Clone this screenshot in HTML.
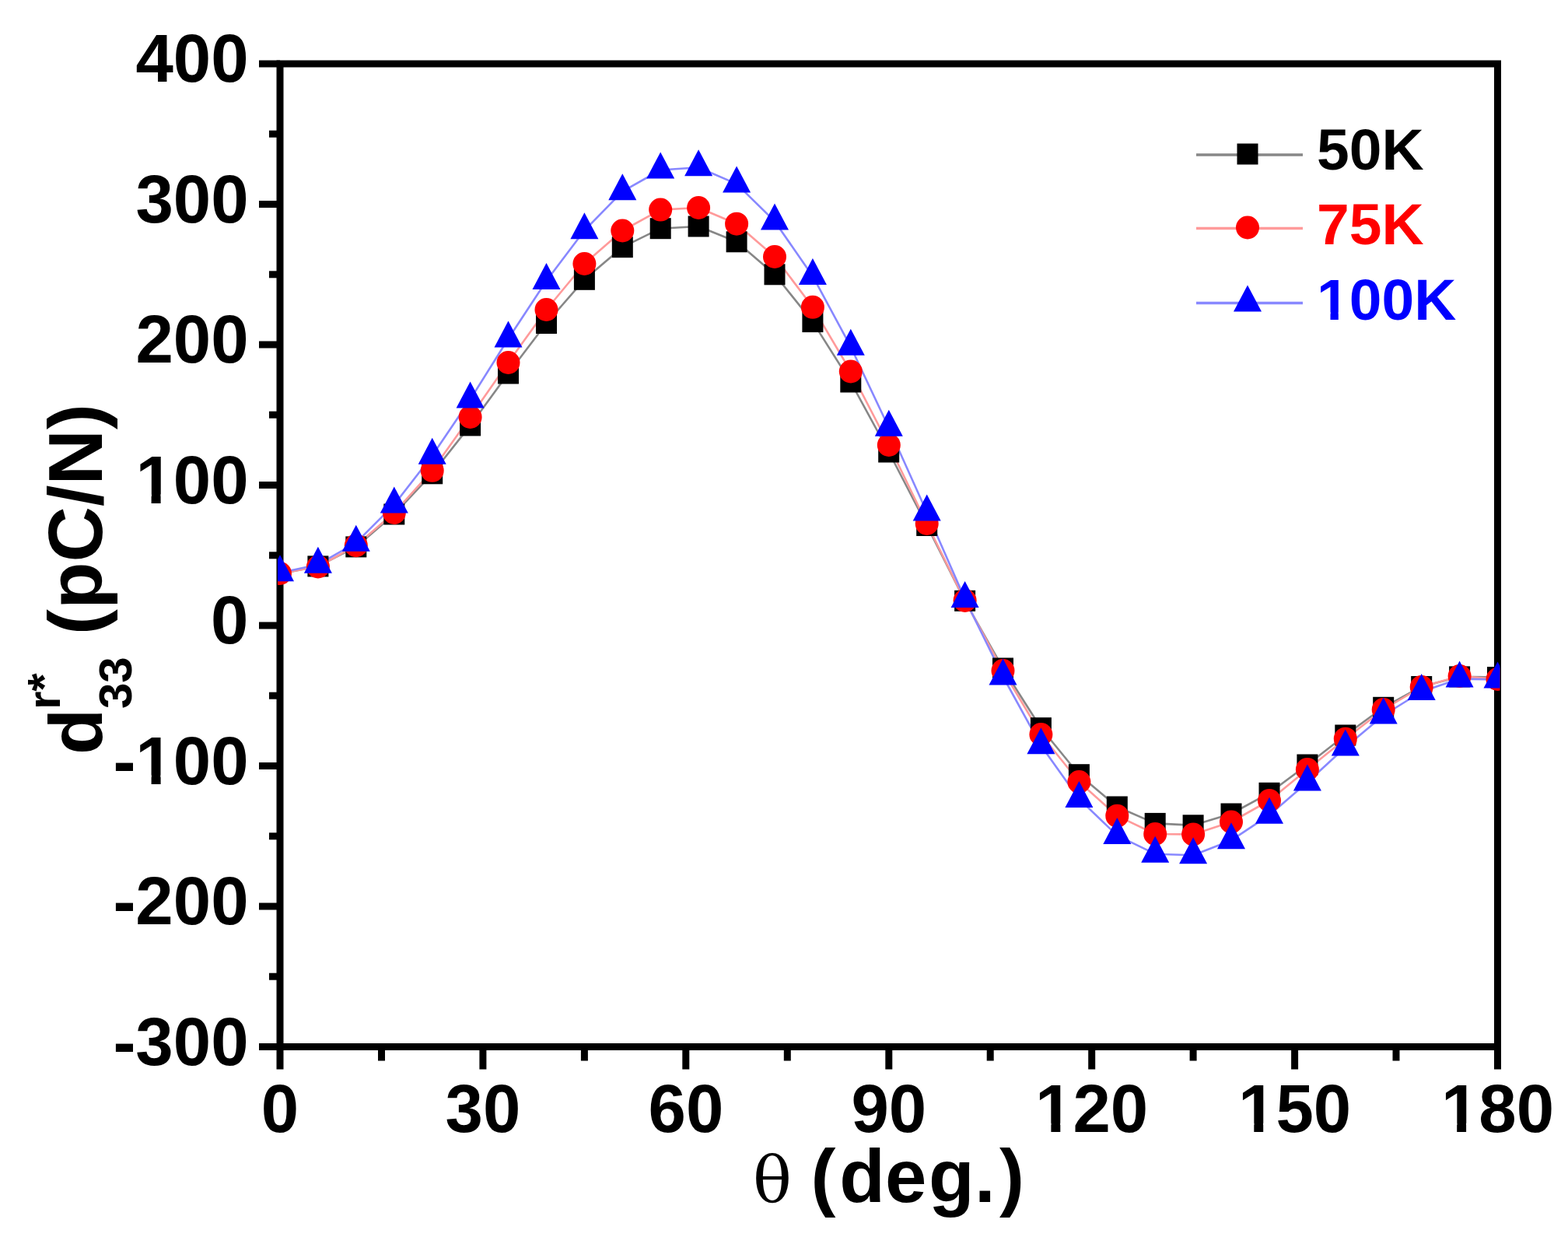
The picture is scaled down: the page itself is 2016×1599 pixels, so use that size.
<!DOCTYPE html>
<html><head><meta charset="utf-8"><title>d33 vs theta</title>
<style>html,body{margin:0;padding:0;background:#fff;width:2016px;height:1599px;overflow:hidden}svg{display:block}</style>
</head><body>
<svg width="2016" height="1599" viewBox="0 0 2016 1599"><defs><clipPath id="pc"><rect x="357.0" y="82.0" width="1571.5" height="1263.5"/></clipPath></defs><g stroke="#000" stroke-width="9.0" fill="none"><rect x="360.0" y="82.0" width="1565.5" height="1263.5"/><line x1="333.0" y1="82.0" x2="360.0" y2="82.0"/><line x1="333.0" y1="262.5" x2="360.0" y2="262.5"/><line x1="333.0" y1="443.0" x2="360.0" y2="443.0"/><line x1="333.0" y1="623.5" x2="360.0" y2="623.5"/><line x1="333.0" y1="804.0" x2="360.0" y2="804.0"/><line x1="333.0" y1="984.5" x2="360.0" y2="984.5"/><line x1="333.0" y1="1165.0" x2="360.0" y2="1165.0"/><line x1="333.0" y1="1345.5" x2="360.0" y2="1345.5"/><line x1="346.0" y1="172.2" x2="360.0" y2="172.2"/><line x1="346.0" y1="352.8" x2="360.0" y2="352.8"/><line x1="346.0" y1="533.2" x2="360.0" y2="533.2"/><line x1="346.0" y1="713.8" x2="360.0" y2="713.8"/><line x1="346.0" y1="894.2" x2="360.0" y2="894.2"/><line x1="346.0" y1="1074.8" x2="360.0" y2="1074.8"/><line x1="346.0" y1="1255.2" x2="360.0" y2="1255.2"/><line x1="360.0" y1="1345.5" x2="360.0" y2="1374.5"/><line x1="620.9" y1="1345.5" x2="620.9" y2="1374.5"/><line x1="881.8" y1="1345.5" x2="881.8" y2="1374.5"/><line x1="1142.8" y1="1345.5" x2="1142.8" y2="1374.5"/><line x1="1403.7" y1="1345.5" x2="1403.7" y2="1374.5"/><line x1="1664.6" y1="1345.5" x2="1664.6" y2="1374.5"/><line x1="1925.5" y1="1345.5" x2="1925.5" y2="1374.5"/><line x1="490.5" y1="1345.5" x2="490.5" y2="1363.5"/><line x1="751.4" y1="1345.5" x2="751.4" y2="1363.5"/><line x1="1012.3" y1="1345.5" x2="1012.3" y2="1363.5"/><line x1="1273.2" y1="1345.5" x2="1273.2" y2="1363.5"/><line x1="1534.1" y1="1345.5" x2="1534.1" y2="1363.5"/><line x1="1795.0" y1="1345.5" x2="1795.0" y2="1363.5"/></g><g clip-path="url(#pc)"><polyline fill="none" stroke="#878787" stroke-width="2.6" stroke-linejoin="round" points="360.0,737.5 408.9,727.9 457.8,702.9 506.8,661.0 555.7,608.8 604.6,546.9 653.5,480.0 702.5,415.5 751.4,359.3 800.3,317.7 849.2,293.7 898.1,291.0 947.1,310.8 996.0,352.8 1044.9,413.6 1093.8,491.0 1142.8,581.0 1191.7,675.5 1240.6,772.3 1289.5,859.0 1338.4,935.7 1387.4,995.7 1436.3,1037.0 1485.2,1058.4 1534.1,1060.8 1583.0,1046.0 1632.0,1019.3 1680.9,983.0 1729.8,945.0 1778.7,909.3 1827.7,882.5 1876.6,869.9 1925.5,870.6"/><polyline fill="none" stroke="#ff9a9a" stroke-width="2.6" stroke-linejoin="round" points="360.0,737.0 408.9,728.5 457.8,701.2 506.8,659.0 555.7,604.8 604.6,536.0 653.5,466.0 702.5,398.0 751.4,339.0 800.3,296.5 849.2,269.6 898.1,267.0 947.1,287.7 996.0,330.0 1044.9,394.8 1093.8,477.5 1142.8,572.0 1191.7,673.0 1240.6,772.0 1289.5,862.0 1338.4,944.0 1387.4,1005.0 1436.3,1048.7 1485.2,1072.0 1534.1,1072.5 1583.0,1056.5 1632.0,1029.0 1680.9,989.0 1729.8,949.7 1778.7,912.0 1827.7,883.0 1876.6,869.0 1925.5,873.0"/><polyline fill="none" stroke="#8888ff" stroke-width="2.6" stroke-linejoin="round" points="360.0,736.3 408.9,725.7 457.8,697.7 506.8,648.6 555.7,585.7 604.6,513.4 653.5,435.5 702.5,361.0 751.4,296.2 800.3,246.2 849.2,218.5 898.1,215.3 947.1,236.4 996.0,284.4 1044.9,354.9 1093.8,445.7 1142.8,549.8 1191.7,658.5 1240.6,769.9 1289.5,869.5 1338.4,958.3 1387.4,1027.0 1436.3,1073.9 1485.2,1097.7 1534.1,1099.2 1583.0,1080.2 1632.0,1047.7 1680.9,1005.5 1729.8,960.5 1778.7,919.5 1827.7,889.0 1876.6,872.6 1925.5,873.5"/><rect x="395.4" y="714.4" width="27" height="27" fill="#000"/><rect x="444.3" y="689.4" width="27" height="27" fill="#000"/><rect x="493.3" y="647.5" width="27" height="27" fill="#000"/><rect x="542.2" y="595.3" width="27" height="27" fill="#000"/><rect x="591.1" y="533.4" width="27" height="27" fill="#000"/><rect x="640.0" y="466.5" width="27" height="27" fill="#000"/><rect x="689.0" y="402.0" width="27" height="27" fill="#000"/><rect x="737.9" y="345.8" width="27" height="27" fill="#000"/><rect x="786.8" y="304.2" width="27" height="27" fill="#000"/><rect x="835.7" y="280.2" width="27" height="27" fill="#000"/><rect x="884.6" y="277.5" width="27" height="27" fill="#000"/><rect x="933.6" y="297.3" width="27" height="27" fill="#000"/><rect x="982.5" y="339.3" width="27" height="27" fill="#000"/><rect x="1031.4" y="400.1" width="27" height="27" fill="#000"/><rect x="1080.3" y="477.5" width="27" height="27" fill="#000"/><rect x="1129.2" y="567.5" width="27" height="27" fill="#000"/><rect x="1178.2" y="662.0" width="27" height="27" fill="#000"/><rect x="1227.1" y="758.8" width="27" height="27" fill="#000"/><rect x="1276.0" y="845.5" width="27" height="27" fill="#000"/><rect x="1324.9" y="922.2" width="27" height="27" fill="#000"/><rect x="1373.9" y="982.2" width="27" height="27" fill="#000"/><rect x="1422.8" y="1023.5" width="27" height="27" fill="#000"/><rect x="1471.7" y="1044.9" width="27" height="27" fill="#000"/><rect x="1520.6" y="1047.3" width="27" height="27" fill="#000"/><rect x="1569.5" y="1032.5" width="27" height="27" fill="#000"/><rect x="1618.5" y="1005.8" width="27" height="27" fill="#000"/><rect x="1667.4" y="969.5" width="27" height="27" fill="#000"/><rect x="1716.3" y="931.5" width="27" height="27" fill="#000"/><rect x="1765.2" y="895.8" width="27" height="27" fill="#000"/><rect x="1814.2" y="869.0" width="27" height="27" fill="#000"/><rect x="1863.1" y="856.4" width="27" height="27" fill="#000"/><rect x="1912.0" y="857.1" width="27" height="27" fill="#000"/><circle cx="360.0" cy="737.0" r="15.0" fill="#f00"/><circle cx="408.9" cy="728.5" r="15.0" fill="#f00"/><circle cx="457.8" cy="701.2" r="15.0" fill="#f00"/><circle cx="506.8" cy="659.0" r="15.0" fill="#f00"/><circle cx="555.7" cy="604.8" r="15.0" fill="#f00"/><circle cx="604.6" cy="536.0" r="15.0" fill="#f00"/><circle cx="653.5" cy="466.0" r="15.0" fill="#f00"/><circle cx="702.5" cy="398.0" r="15.0" fill="#f00"/><circle cx="751.4" cy="339.0" r="15.0" fill="#f00"/><circle cx="800.3" cy="296.5" r="15.0" fill="#f00"/><circle cx="849.2" cy="269.6" r="15.0" fill="#f00"/><circle cx="898.1" cy="267.0" r="15.0" fill="#f00"/><circle cx="947.1" cy="287.7" r="15.0" fill="#f00"/><circle cx="996.0" cy="330.0" r="15.0" fill="#f00"/><circle cx="1044.9" cy="394.8" r="15.0" fill="#f00"/><circle cx="1093.8" cy="477.5" r="15.0" fill="#f00"/><circle cx="1142.8" cy="572.0" r="15.0" fill="#f00"/><circle cx="1191.7" cy="673.0" r="15.0" fill="#f00"/><circle cx="1240.6" cy="772.0" r="15.0" fill="#f00"/><circle cx="1289.5" cy="862.0" r="15.0" fill="#f00"/><circle cx="1338.4" cy="944.0" r="15.0" fill="#f00"/><circle cx="1387.4" cy="1005.0" r="15.0" fill="#f00"/><circle cx="1436.3" cy="1048.7" r="15.0" fill="#f00"/><circle cx="1485.2" cy="1072.0" r="15.0" fill="#f00"/><circle cx="1534.1" cy="1072.5" r="15.0" fill="#f00"/><circle cx="1583.0" cy="1056.5" r="15.0" fill="#f00"/><circle cx="1632.0" cy="1029.0" r="15.0" fill="#f00"/><circle cx="1680.9" cy="989.0" r="15.0" fill="#f00"/><circle cx="1729.8" cy="949.7" r="15.0" fill="#f00"/><circle cx="1778.7" cy="912.0" r="15.0" fill="#f00"/><circle cx="1827.7" cy="883.0" r="15.0" fill="#f00"/><circle cx="1876.6" cy="869.0" r="15.0" fill="#f00"/><circle cx="1925.5" cy="873.0" r="15.0" fill="#f00"/><polygon points="360.0,713.3 342.0,747.3 378.0,747.3" fill="#00f"/><polygon points="408.9,702.7 390.9,736.7 426.9,736.7" fill="#00f"/><polygon points="457.8,674.7 439.8,708.7 475.8,708.7" fill="#00f"/><polygon points="506.8,625.6 488.8,659.6 524.8,659.6" fill="#00f"/><polygon points="555.7,562.7 537.7,596.7 573.7,596.7" fill="#00f"/><polygon points="604.6,490.4 586.6,524.4 622.6,524.4" fill="#00f"/><polygon points="653.5,412.5 635.5,446.5 671.5,446.5" fill="#00f"/><polygon points="702.5,338.0 684.5,372.0 720.5,372.0" fill="#00f"/><polygon points="751.4,273.2 733.4,307.2 769.4,307.2" fill="#00f"/><polygon points="800.3,223.2 782.3,257.2 818.3,257.2" fill="#00f"/><polygon points="849.2,195.5 831.2,229.5 867.2,229.5" fill="#00f"/><polygon points="898.1,192.3 880.1,226.3 916.1,226.3" fill="#00f"/><polygon points="947.1,213.4 929.1,247.4 965.1,247.4" fill="#00f"/><polygon points="996.0,261.4 978.0,295.4 1014.0,295.4" fill="#00f"/><polygon points="1044.9,331.9 1026.9,365.9 1062.9,365.9" fill="#00f"/><polygon points="1093.8,422.7 1075.8,456.7 1111.8,456.7" fill="#00f"/><polygon points="1142.8,526.8 1124.8,560.8 1160.8,560.8" fill="#00f"/><polygon points="1191.7,635.5 1173.7,669.5 1209.7,669.5" fill="#00f"/><polygon points="1240.6,746.9 1222.6,780.9 1258.6,780.9" fill="#00f"/><polygon points="1289.5,846.5 1271.5,880.5 1307.5,880.5" fill="#00f"/><polygon points="1338.4,935.3 1320.4,969.3 1356.4,969.3" fill="#00f"/><polygon points="1387.4,1004.0 1369.4,1038.0 1405.4,1038.0" fill="#00f"/><polygon points="1436.3,1050.9 1418.3,1084.9 1454.3,1084.9" fill="#00f"/><polygon points="1485.2,1074.7 1467.2,1108.7 1503.2,1108.7" fill="#00f"/><polygon points="1534.1,1076.2 1516.1,1110.2 1552.1,1110.2" fill="#00f"/><polygon points="1583.0,1057.2 1565.0,1091.2 1601.0,1091.2" fill="#00f"/><polygon points="1632.0,1024.7 1614.0,1058.7 1650.0,1058.7" fill="#00f"/><polygon points="1680.9,982.5 1662.9,1016.5 1698.9,1016.5" fill="#00f"/><polygon points="1729.8,937.5 1711.8,971.5 1747.8,971.5" fill="#00f"/><polygon points="1778.7,896.5 1760.7,930.5 1796.7,930.5" fill="#00f"/><polygon points="1827.7,866.0 1809.7,900.0 1845.7,900.0" fill="#00f"/><polygon points="1876.6,849.6 1858.6,883.6 1894.6,883.6" fill="#00f"/><polygon points="1925.5,850.5 1907.5,884.5 1943.5,884.5" fill="#00f"/></g><text x="174.4" y="105.0" font-family="Liberation Sans, Arial, sans-serif" font-weight="bold" font-size="87" fill="#000">400</text><text x="174.4" y="285.5" font-family="Liberation Sans, Arial, sans-serif" font-weight="bold" font-size="87" fill="#000">300</text><text x="174.4" y="466.0" font-family="Liberation Sans, Arial, sans-serif" font-weight="bold" font-size="87" fill="#000">200</text><text x="174.4" y="646.5" font-family="Liberation Sans, Arial, sans-serif" font-weight="bold" font-size="87" fill="#000">100</text><rect x="178.7" y="635.2" width="15.9" height="13.0" fill="#fff"/><rect x="206.6" y="635.2" width="14.4" height="13.0" fill="#fff"/><text x="271.1" y="827.0" font-family="Liberation Sans, Arial, sans-serif" font-weight="bold" font-size="87" fill="#000">0</text><text x="145.4" y="1007.5" font-family="Liberation Sans, Arial, sans-serif" font-weight="bold" font-size="87" fill="#000">-100</text><rect x="178.7" y="996.2" width="15.9" height="13.0" fill="#fff"/><rect x="206.6" y="996.2" width="14.4" height="13.0" fill="#fff"/><text x="145.4" y="1188.0" font-family="Liberation Sans, Arial, sans-serif" font-weight="bold" font-size="87" fill="#000">-200</text><text x="145.4" y="1368.5" font-family="Liberation Sans, Arial, sans-serif" font-weight="bold" font-size="87" fill="#000">-300</text><text x="335.8" y="1455.0" font-family="Liberation Sans, Arial, sans-serif" font-weight="bold" font-size="87" fill="#000">0</text><text x="572.5" y="1455.0" font-family="Liberation Sans, Arial, sans-serif" font-weight="bold" font-size="87" fill="#000">30</text><text x="833.5" y="1455.0" font-family="Liberation Sans, Arial, sans-serif" font-weight="bold" font-size="87" fill="#000">60</text><text x="1094.4" y="1455.0" font-family="Liberation Sans, Arial, sans-serif" font-weight="bold" font-size="87" fill="#000">90</text><text x="1331.1" y="1455.0" font-family="Liberation Sans, Arial, sans-serif" font-weight="bold" font-size="87" fill="#000">120</text><rect x="1335.5" y="1443.7" width="15.9" height="13.0" fill="#fff"/><rect x="1363.3" y="1443.7" width="14.4" height="13.0" fill="#fff"/><text x="1592.0" y="1455.0" font-family="Liberation Sans, Arial, sans-serif" font-weight="bold" font-size="87" fill="#000">150</text><rect x="1596.4" y="1443.7" width="15.9" height="13.0" fill="#fff"/><rect x="1624.2" y="1443.7" width="14.4" height="13.0" fill="#fff"/><text x="1852.9" y="1455.0" font-family="Liberation Sans, Arial, sans-serif" font-weight="bold" font-size="87" fill="#000">180</text><rect x="1857.3" y="1443.7" width="15.9" height="13.0" fill="#fff"/><rect x="1885.1" y="1443.7" width="14.4" height="13.0" fill="#fff"/><text x="968" y="1545" font-family="DejaVu Serif, serif" font-size="83">θ</text><text x="1043" y="1545" font-family="Liberation Sans, Arial, sans-serif" font-weight="bold" font-size="96" dx="-0.5 4.7 0.1 2.6 0.5 5.3">(deg.)</text><g font-family="Liberation Sans, Arial, sans-serif" fill="#000"><text transform="translate(131,970) rotate(-90)" font-weight="bold" font-size="97">d</text><text transform="translate(169,911) rotate(-90)" font-weight="bold" font-size="60">33</text><text transform="translate(77,912) rotate(-90)" font-weight="bold" font-size="60">r*</text><text transform="translate(131,816) rotate(-90)" font-weight="bold" font-size="99">(pC/N)</text></g><line x1="1538" y1="199.0" x2="1675" y2="199.0" stroke="#878787" stroke-width="3.5"/><rect x="1590.5" y="184.5" width="27" height="27" fill="#000"/><text x="1693.0" y="218.0" font-family="Liberation Sans, Arial, sans-serif" font-weight="bold" font-size="75" fill="#000">50K</text><line x1="1538" y1="293.5" x2="1675" y2="293.5" stroke="#ff9a9a" stroke-width="3.5"/><circle cx="1604.0" cy="292.5" r="15.0" fill="#f00"/><text x="1693.0" y="314.0" font-family="Liberation Sans, Arial, sans-serif" font-weight="bold" font-size="75" fill="#f00">75K</text><line x1="1538" y1="389.5" x2="1675" y2="389.5" stroke="#8888ff" stroke-width="3.5"/><polygon points="1604.0,366.5 1586.0,400.5 1622.0,400.5" fill="#00f"/><text x="1693.0" y="411.0" font-family="Liberation Sans, Arial, sans-serif" font-weight="bold" font-size="75" fill="#00f">100K</text><rect x="1696.8" y="401.2" width="13.7" height="11.2" fill="#fff"/><rect x="1720.8" y="401.2" width="12.4" height="11.2" fill="#fff"/></svg>
</body></html>
